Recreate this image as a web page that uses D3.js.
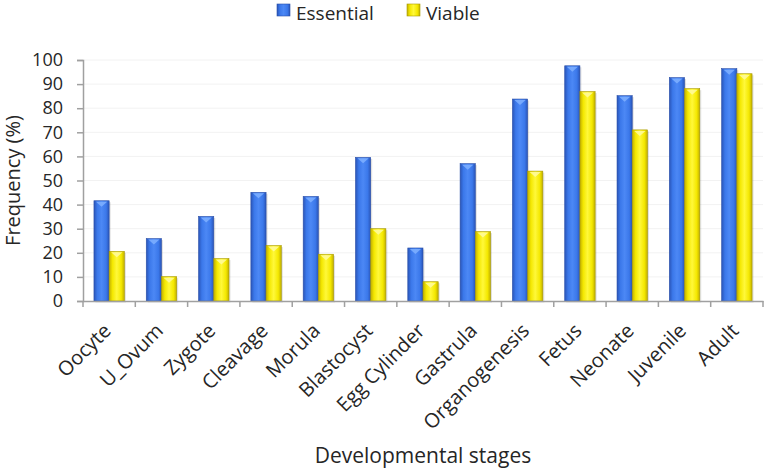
<!DOCTYPE html>
<html>
<head>
<meta charset="utf-8">
<script src="https://cdn.jsdelivr.net/npm/d3@7"></script>
<style>
  body { margin: 0; background: #fff; }
  svg { display: block; font-family: "Open Sans", sans-serif; }
</style>
</head>
<body>
<svg id="chart" width="767" height="472"></svg>
<script>
const stages = ["Oocyte", "U_Ovum", "Zygote", "Cleavage", "Morula", "Blastocyst",
  "Egg Cylinder", "Gastrula", "Organogenesis", "Fetus", "Neonate", "Juvenile", "Adult"];
const essential = [41.6, 25.9, 35.1, 45.1, 43.4, 59.6, 22.0, 57.0, 83.8, 97.6, 85.2, 92.7, 96.4];
const viable = [20.6, 10.1, 17.6, 23.0, 19.4, 30.0, 8.0, 28.8, 53.9, 86.9, 71.0, 88.1, 94.3];
const yTicks = [0, 10, 20, 30, 40, 50, 60, 70, 80, 90, 100];
const seriesNames = ["Essential", "Viable"];

const svg = d3.select("#chart");
const m = {left: 83, right: 4, top: 60, bottom: 171};
const W = 767, H = 472;

const x = d3.scaleBand().domain(stages).range([m.left, W - m.right]).paddingInner(0).paddingOuter(0);
const y = d3.scaleLinear().domain([0, 100]).range([H - m.bottom, m.top]);
const x1 = d3.scaleBand().domain(seriesNames).range([0, x.bandwidth()]).paddingInner(0).paddingOuter(0.72);

const defs = svg.append("defs");
function grad(id, dark, mid, light) {
  const g = defs.append("linearGradient").attr("id", id).attr("x1", 0).attr("x2", 1).attr("y1", 0).attr("y2", 0);
  g.append("stop").attr("offset", "0%").attr("stop-color", dark);
  g.append("stop").attr("offset", "22%").attr("stop-color", mid);
  g.append("stop").attr("offset", "50%").attr("stop-color", light);
  g.append("stop").attr("offset", "80%").attr("stop-color", mid);
  g.append("stop").attr("offset", "100%").attr("stop-color", dark);
}
grad("gBlue", "#2a55b8", "#3b78ea", "#4c88f5");
grad("gYel", "#c2b000", "#f4e800", "#fff83a");

const colors = {Essential: {fill: "url(#gBlue)", cap: "#7fb0ff", edge: "#2a4fa8"},
  Viable: {fill: "url(#gYel)", cap: "#fffaa0", edge: "#a89a00"}};

// gridlines
svg.append("g").selectAll("line").data(yTicks.slice(1)).join("line")
  .attr("x1", m.left).attr("x2", W - m.right)
  .attr("y1", d => y(d)).attr("y2", d => y(d))
  .attr("stroke", "#f2f2f2").attr("stroke-width", 1);

// bars
const rows = stages.map((s, i) => ({stage: s, vals: [
  {key: "Essential", v: essential[i]}, {key: "Viable", v: viable[i]}]}));

const grp = svg.append("g").selectAll("g").data(rows).join("g")
  .attr("transform", d => `translate(${x(d.stage)},0)`);

const bar = grp.selectAll("g").data(d => d.vals).join("g");
bar.append("rect")
  .attr("x", d => x1(d.key) + 1.5).attr("y", d => y(d.v) + 1.5)
  .attr("width", x1.bandwidth()).attr("height", d => y(0) - y(d.v))
  .attr("fill", "#000").attr("opacity", 0.12);
bar.append("rect")
  .attr("x", d => x1(d.key)).attr("y", d => y(d.v))
  .attr("width", x1.bandwidth()).attr("height", d => y(0) - y(d.v))
  .attr("fill", d => colors[d.key].fill)
  .attr("stroke", d => colors[d.key].edge).attr("stroke-width", 0.6);
bar.append("path")
  .attr("d", d => {
    const x0 = x1(d.key) + 2, w = x1.bandwidth() - 4, t = y(d.v) + 1;
    return `M${x0},${t}L${x0 + w},${t}L${x0 + w / 2},${t + 5}Z`;
  })
  .attr("fill", d => colors[d.key].cap).attr("opacity", 0.85);

// axes
const yAxis = svg.append("g").attr("transform", `translate(${m.left},0)`)
  .call(d3.axisLeft(y).tickValues(yTicks).tickSize(6).tickPadding(14));
const xAxis = svg.append("g").attr("transform", `translate(0,${y(0)})`)
  .call(d3.axisBottom(x).tickSize(0).tickFormat(""));
[yAxis, xAxis].forEach(a => {
  a.select(".domain").attr("stroke", "#a0a0a0").attr("stroke-width", 1.5);
  a.selectAll(".tick line").attr("stroke", "#a0a0a0").attr("stroke-width", 1.5);
});
yAxis.selectAll("text").attr("font-size", 18).attr("fill", "#262626").attr("font-family", "'Open Sans', sans-serif");

// category boundary ticks
svg.append("g").selectAll("line").data(stages.concat(["_end"])).join("line")
  .attr("x1", d => d === "_end" ? W - m.right : x(d))
  .attr("x2", d => d === "_end" ? W - m.right : x(d))
  .attr("y1", y(0)).attr("y2", y(0) + 6)
  .attr("stroke", "#a0a0a0").attr("stroke-width", 1.5);

// category labels
svg.append("g").selectAll("text").data(stages).join("text")
  .attr("transform", d => `translate(${x(d) + x.bandwidth() / 2 + 3},${y(0) + 31}) rotate(-45)`)
  .attr("text-anchor", "end")
  .attr("font-size", 20).attr("fill", "#262626")
  .text(d => d);

// axis titles
svg.append("text")
  .attr("transform", `translate(20,${(y(0) + y(100)) / 2}) rotate(-90)`)
  .attr("text-anchor", "middle").attr("font-size", 20).attr("fill", "#262626")
  .text("Frequency (%)");
svg.append("text")
  .attr("x", (m.left + W - m.right) / 2).attr("y", 463)
  .attr("text-anchor", "middle").attr("font-size", 21).attr("fill", "#262626")
  .text("Developmental stages");

// legend
const leg = svg.append("g").selectAll("g").data(seriesNames).join("g")
  .attr("transform", (d, i) => `translate(${i === 0 ? 277 : 407},3)`);
leg.append("rect").attr("y", 1).attr("width", 13).attr("height", 12)
  .attr("fill", d => colors[d].fill).attr("stroke", d => colors[d].edge).attr("stroke-width", 0.6);
leg.append("text").attr("x", 19).attr("y", 17).attr("font-size", 19).attr("fill", "#262626")
  .text(d => d);
</script>
</body>
</html>
